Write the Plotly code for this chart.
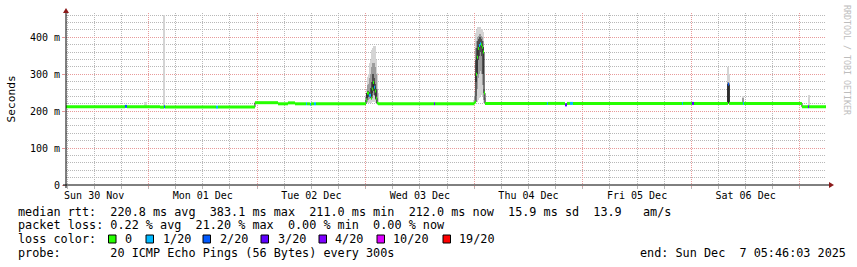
import plotly.graph_objects as go
import pandas as pd

START = "2025-11-30 05:46:03"
END = "2025-12-07 05:46:03"

# ---- median RTT steps (ms) with loss (pings lost of 20) ----
med_time = [
    "2025-11-30 05:46", "2025-11-30 18:48", "2025-11-30 19:15", "2025-12-01 02:33",
    "2025-12-01 03:26", "2025-12-01 03:39", "2025-12-01 14:55", "2025-12-01 15:22",
    "2025-12-01 23:32", "2025-12-02 04:38", "2025-12-02 06:50", "2025-12-02 08:23",
    "2025-12-02 10:49", "2025-12-02 11:02", "2025-12-02 11:42", "2025-12-02 11:55",
    "2025-12-02 12:35", "2025-12-02 13:02",
    "2025-12-03 00:05", "2025-12-03 00:18", "2025-12-03 00:44", "2025-12-03 01:11",
    "2025-12-03 01:24", "2025-12-03 01:37", "2025-12-03 01:51", "2025-12-03 02:04",
    "2025-12-03 02:17", "2025-12-03 02:30", "2025-12-03 02:44",
    "2025-12-03 15:07", "2025-12-03 15:20",
    "2025-12-03 23:57", "2025-12-04 00:10", "2025-12-04 00:24", "2025-12-04 00:37",
    "2025-12-04 00:50", "2025-12-04 01:03", "2025-12-04 01:17", "2025-12-04 01:30",
    "2025-12-04 01:43", "2025-12-04 01:56", "2025-12-04 02:10", "2025-12-04 02:23",
    "2025-12-04 16:05", "2025-12-04 16:18", "2025-12-04 20:04", "2025-12-04 20:30",
    "2025-12-04 21:10", "2025-12-04 21:50", "2025-12-05 21:56", "2025-12-05 22:09",
    "2025-12-06 00:08", "2025-12-06 00:35", "2025-12-06 08:05", "2025-12-06 08:19",
    "2025-12-06 11:25", "2025-12-06 11:38", "2025-12-07 00:27", "2025-12-07 01:47",
    "2025-12-07 02:00",
]
med_value = [
    212, 213, 212, 211,
    212, 211, 211, 211,
    223, 220, 222.5, 220,
    220, 220, 219, 220,
    220, 220,
    230, 249, 243, 235,
    260, 278, 265, 255,
    235, 222, 220,
    220, 220,
    222, 225, 300, 346,
    370, 378, 383, 380,
    373, 360, 249, 221,
    221, 221, 217, 221,
    221, 221, 221, 221,
    221, 221, 273, 221,
    221, 221, 212, 212,
    212,
]
med_loss = [
    0, 2, 0, 0,
    2, 0, 1, 0,
    0, 0, 0, 0,
    1, 0, 1, 0,
    1, 0,
    0, 0, 1, 0,
    0, 0, 1, 0,
    0, 0, 0,
    3, 0,
    0, 0, 0, 0,
    0, 1, 1, 0,
    0, 0, 0, 0,
    1, 0, 3, 0,
    1, 0, 1, 0,
    3, 0, 2, 0,
    1, 0, 0, 3,
    0,
]

# ---- smoke (spread of the 20 pings), ms ----
smoke_time = [
    "2025-11-30 18:48", "2025-11-30 23:14", "2025-11-30 23:27", "2025-12-01 03:26",
    "2025-12-03 00:05", "2025-12-03 00:18", "2025-12-03 00:31", "2025-12-03 00:44",
    "2025-12-03 00:58", "2025-12-03 01:11", "2025-12-03 01:24", "2025-12-03 01:37",
    "2025-12-03 01:51", "2025-12-03 02:04", "2025-12-03 02:17", "2025-12-03 02:30",
    "2025-12-03 02:44",
    "2025-12-03 23:57", "2025-12-04 00:10", "2025-12-04 00:24", "2025-12-04 00:37",
    "2025-12-04 00:50", "2025-12-04 01:03", "2025-12-04 01:17", "2025-12-04 01:30",
    "2025-12-04 01:43", "2025-12-04 01:56", "2025-12-04 02:10", "2025-12-04 02:23",
    "2025-12-06 08:05", "2025-12-06 08:19", "2025-12-06 11:25", "2025-12-07 02:00",
]
outer_lo = [212, 212, 212, 212,
            221, 221, 221, 221, 221, 221, 224, 224, 225, 225, 222, 221, 220,
            221, 222, 224, 225, 230, 235, 240, 245, 250, 240, 222, 220,
            221, 221, 221, 212]
outer_hi = [217, 226, 226, 460,
            245, 258, 292, 300, 330, 340, 365, 372, 376, 376, 340, 303, 250,
            230, 251, 413, 420, 427, 427, 427, 424, 424, 415, 300, 235,
            319, 300, 240, 243]
mid_lo = [None, None, None, None,
          224, 226, 230, 232, 235, 235, 240, 245, 245, 240, 230, 222, None,
          None, 223, 240, 260, 290, 300, 310, 320, 300, 270, 230, None,
          221, 221, 221, None]
mid_hi = [None, None, None, None,
          238, 250, 270, 275, 290, 300, 320, 330, 330, 320, 300, 260, None,
          None, 240, 370, 390, 400, 405, 410, 405, 400, 390, 260, None,
          280, 276, 236, None]
core_lo = [None, None, None, None,
           None, 235, 240, 238, 238, 240, 250, 260, 255, 245, 232, None, None,
           None, None, 280, 300, 340, 350, 360, 360, 350, 300, None, None,
           221, 221, None, None]
core_hi = [None, None, None, None,
           None, 249, 255, 250, 252, 262, 280, 300, 290, 275, 260, None, None,
           None, None, 340, 370, 390, 395, 400, 395, 390, 375, None, None,
           275, 272, None, None]

# ---- legend ----
loss_levels = [0, 1, 2, 3, 4, 10, 19]
loss_colors = ["#26ff00", "#00b8ff", "#0059ff", "#5e00ff", "#7e00ff", "#dd00ff", "#ff0000"]
loss_labels = ["0", "1/20", "2/20", "3/20", "4/20", "10/20", "19/20"]

y_tick_vals = [0, 100, 200, 300, 400]
y_tick_text = ["0", "100 m", "200 m", "300 m", "400 m"]

row_rtt = "median rtt:  220.8 ms avg  383.1 ms max  211.0 ms min  212.0 ms now  15.9 ms sd  13.9   am/s"
row_loss = "packet loss: 0.22 % avg  21.20 % max  0.00 % min  0.00 % now"
row_color = "loss color:"
row_probe = "probe:       20 ICMP Echo Pings (56 Bytes) every 300s"
row_end = "end: Sun Dec  7 05:46:03 2025"

# ---- geometry helpers (pixel -> paper) ----
W, H = 857, 267
PL, PR, PT, PB = 66, 826, 13, 185


def px(x):
    return (x - PL) / (PR - PL)


def py(y):
    return (PB - y) / (PB - PT)


MONO = "DejaVu Sans Mono"
col_ms = 13.3 * 60 * 1000

fig = go.Figure()


def smoke_layer(lo, hi, color):
    xs, bs, hs = [], [], []
    for t, a, b in zip(smoke_time, lo, hi):
        if a is None or b is None:
            continue
        xs.append(t)
        bs.append(a)
        hs.append(b - a)
    fig.add_trace(go.Bar(x=xs, y=hs, base=bs, width=col_ms,
                         marker=dict(color=color, line=dict(width=0)),
                         showlegend=False, hoverinfo="skip"))


smoke_layer(outer_lo, outer_hi, "#d4d4d4")
smoke_layer(mid_lo, mid_hi, "#9c9c9c")
smoke_layer(core_lo, core_hi, "#505050")

# black median step line
fig.add_trace(go.Scatter(x=med_time + [END], y=med_value + [med_value[-1]],
                         mode="lines", line=dict(color="#202020", width=1, shape="hv"),
                         showlegend=False, hoverinfo="skip"))

# coloured median band per loss bucket
ends = med_time[1:] + [END]
for lvl, col in zip(loss_levels, loss_colors):
    xs, ys = [], []
    for t0, t1, v, l in zip(med_time, ends, med_value, med_loss):
        if l == lvl:
            xs += [t0, t1, None]
            ys += [v, v, None]
    if xs:
        fig.add_trace(go.Scatter(x=xs, y=ys, mode="lines",
                                 line=dict(color=col, width=3),
                                 showlegend=False, hoverinfo="skip"))

# invisible trace so the day-label axis is drawn
fig.add_trace(go.Scatter(x=[START, END], y=[0, 0], xaxis="x2", mode="markers",
                         marker=dict(opacity=0), showlegend=False, hoverinfo="skip"))

MGRID = "#e89a9a"
GRID = "#b8b8b8"
DOT = "1px,1px"

fig.update_layout(
    width=W, height=H,
    margin=dict(l=PL, r=W - PR, t=PT, b=H - PB, pad=0),
    paper_bgcolor="white", plot_bgcolor="white",
    barmode="overlay", bargap=0,
    font=dict(family=MONO, size=10, color="#000000"),
    xaxis=dict(
        type="date", range=[START, END],
        tick0="2025-11-30 00:00", dtick=6 * 3600000,
        showticklabels=False,
        showgrid=True, gridcolor=GRID, griddash=DOT, gridwidth=1,
        ticks="outside", ticklen=3, tickcolor=GRID,
        showline=False, zeroline=False, fixedrange=True,
    ),
    xaxis2=dict(
        type="date", range=[START, END], overlaying="x", anchor="y", side="bottom",
        tick0="2025-11-30 00:00", dtick=86400000,
        ticklabelmode="period", tickformat="%a %d %b",
        showgrid=True, gridcolor=MGRID, griddash=DOT, gridwidth=1,
        ticks="outside", ticklen=1, tickcolor=MGRID,
        tickfont=dict(family=MONO, size=10, color="#000"),
        showline=False, zeroline=False, fixedrange=True,
    ),
    yaxis=dict(
        range=[0, 466], tickvals=y_tick_vals, ticktext=y_tick_text,
        showgrid=True, gridcolor=MGRID, griddash=DOT, gridwidth=1,
        ticks="outside", ticklen=3, tickcolor=MGRID,
        tickfont=dict(family=MONO, size=10, color="#000"),
        minor=dict(dtick=20, showgrid=True, gridcolor=GRID, griddash=DOT, gridwidth=1),
        showline=False, zeroline=False, fixedrange=True,
    ),
)

shapes = []
# axes
shapes.append(dict(type="line", xref="paper", yref="paper", x0=px(63), x1=px(829),
                   y0=py(185), y1=py(185), line=dict(color="#000", width=1), layer="above"))
shapes.append(dict(type="line", xref="paper", yref="paper", x0=px(66), x1=px(66),
                   y0=py(188), y1=py(12), line=dict(color="#000", width=1), layer="above"))
# arrows
shapes.append(dict(type="path", xref="paper", yref="paper",
                   path=f"M {px(829)} {py(182)} L {px(834)} {py(185)} L {px(829)} {py(188)} Z",
                   fillcolor="#8b1a1a", line=dict(color="#8b1a1a", width=0), layer="above"))
shapes.append(dict(type="path", xref="paper", yref="paper",
                   path=f"M {px(63)} {py(13)} L {px(66)} {py(8)} L {px(69)} {py(13)} Z",
                   fillcolor="#8b1a1a", line=dict(color="#8b1a1a", width=0), layer="above"))

annotations = []
LFS = 11.8


def text(x, y, s, anchor="left", size=LFS, color="#000", angle=0):
    annotations.append(dict(xref="paper", yref="paper", x=px(x), y=py(y), text=s,
                            showarrow=False, xanchor=anchor, yanchor="middle",
                            textangle=angle,
                            font=dict(family=MONO, size=size, color=color)))


text(15.5, 211.7, row_rtt.replace(" ", "&nbsp;"))
text(15.5, 225.2, row_loss.replace(" ", "&nbsp;"))
text(15.5, 239.3, row_color.replace(" ", "&nbsp;"))
text(15.5, 253.3, row_probe.replace(" ", "&nbsp;"))
text(638, 253.3, row_end.replace(" ", "&nbsp;"))

box_x = [108.5, 146, 203, 261, 319, 377, 443]
lab_x = [122.5, 160.5, 218, 276, 333, 391, 457]
for bx, lx, col, lab in zip(box_x, lab_x, loss_colors, loss_labels):
    shapes.append(dict(type="rect", xref="paper", yref="paper",
                       x0=px(bx), x1=px(bx + 7.5), y0=py(235), y1=py(243),
                       fillcolor=col, line=dict(color="#000", width=1)))
    text(lx, 239.3, lab)

text(11, 99.5, "Seconds", anchor="center", size=11.2, angle=-90)
text(847, 60, "RRDTOOL / TOBI OETIKER", anchor="center", size=8.3, color="#bdbdbd", angle=90)

fig.update_layout(shapes=shapes, annotations=annotations)
fig.write_html("out.html")
